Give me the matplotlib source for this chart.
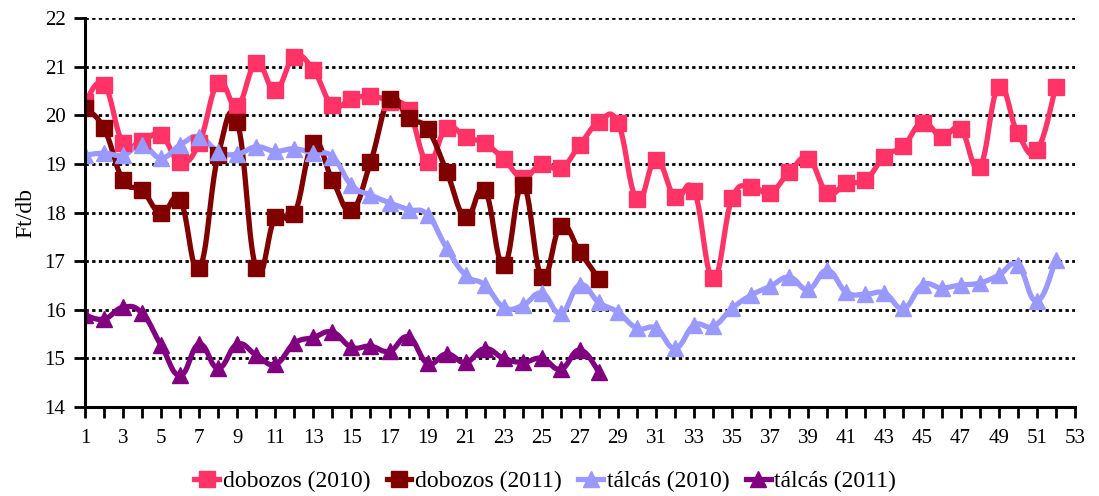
import numpy as np
import matplotlib
matplotlib.use("Agg")
from matplotlib import pyplot as plt

# weeks
weeks_2010 = list(range(1, 53))
weeks_2011 = list(range(1, 29))

dobozos_2010 = [20.27, 20.63, 19.43, 19.48, 19.59, 19.04, 19.43, 20.66, 20.2, 21.07,
                20.52, 21.2, 20.93, 20.21, 20.33, 20.4, 20.28, 20.1, 19.04, 19.74,
                19.55, 19.42, 19.1, 18.72, 19.0, 18.91, 19.39, 19.86, 19.84, 18.28,
                19.08, 18.32, 18.45, 16.65, 18.29, 18.52, 18.41, 18.83, 19.11, 18.41,
                18.6, 18.67, 19.15, 19.37, 19.85, 19.56, 19.71, 18.94, 20.58, 19.63,
                19.28, 20.58]
dobozos_2011 = [20.15, 19.73, 18.67, 18.46, 17.98, 18.25, 16.85, 19.18, 19.86, 16.85,
                17.9, 17.97, 19.42, 18.67, 18.05, 19.03, 20.33, 19.94, 19.71, 18.84,
                17.9, 18.46, 16.92, 18.56, 16.68, 17.72, 17.19, 16.63]
talcas_2010 = [19.18, 19.22, 19.18, 19.39, 19.12, 19.39, 19.56, 19.25, 19.2, 19.35,
               19.26, 19.31, 19.22, 19.15, 18.56, 18.36, 18.2, 18.06, 17.95, 17.27,
               16.71, 16.51, 16.05, 16.09, 16.34, 15.93, 16.51, 16.15, 15.95, 15.62,
               15.62, 15.21, 15.68, 15.66, 16.03, 16.3, 16.48, 16.67, 16.42, 16.81,
               16.36, 16.32, 16.34, 16.03, 16.51, 16.45, 16.51, 16.55, 16.71, 16.92,
               16.18, 17.02]
talcas_2011 = [15.89, 15.81, 16.05, 15.93, 15.27, 14.65, 15.29, 14.8, 15.29, 15.07,
               14.88, 15.31, 15.43, 15.54, 15.23, 15.25, 15.15, 15.44, 14.9, 15.09,
               14.92, 15.2, 15.0, 14.92, 15.0, 14.78, 15.17, 14.72]

labels = ["dobozos (2010)", "dobozos (2011)", "tálcás (2010)", "tálcás (2011)"]
colors = ["#FF3366", "#800000", "#9999FF", "#800080"]
markers = ["s", "s", "^", "^"]


def smooth(xs, ys, sx=19.04, sy=48.6, f=0.22, n=20):
    # bezier smoothing similar to spreadsheet "smoothed line", done in screen-ish units
    p = np.column_stack([np.asarray(xs, float) * sx, np.asarray(ys, float) * sy])
    out = [p[0]]
    t = np.linspace(0, 1, n)[1:, None]
    for i in range(len(p) - 1):
        p0 = p[i - 1] if i > 0 else p[i]
        p3 = p[i + 2] if i + 2 < len(p) else p[i + 1]
        c1 = p[i] + f * (p[i + 1] - p0)
        c2 = p[i + 1] - f * (p3 - p[i])
        seg = ((1 - t) ** 3) * p[i] + 3 * ((1 - t) ** 2) * t * c1 + 3 * (1 - t) * t ** 2 * c2 + t ** 3 * p[i + 1]
        out.extend(seg)
    out = np.array(out)
    return out[:, 0] / sx, out[:, 1] / sy


plt.rcParams['font.family'] = ['Liberation Serif', 'DejaVu Serif']

fig = plt.figure(figsize=(10.99, 4.96), dpi=100)
ax = fig.add_axes([0.0773, 0.1794, 0.9007, 0.7843])

series = [(weeks_2010, dobozos_2010), (weeks_2011, dobozos_2011),
          (weeks_2010, talcas_2010), (weeks_2011, talcas_2011)]
handles = []
for (xs, ys), lab, c, m in zip(series, labels, colors, markers):
    sx_, sy_ = smooth(xs, ys)
    ax.plot(sx_, sy_, color=c, lw=3.8, solid_capstyle='round', zorder=3)
    ax.plot(xs, ys, linestyle='none', marker=m, color=c, markersize=11.5 if m == 's' else 12, zorder=4)
    h, = ax.plot([], [], color=c, lw=3.8, marker=m, markersize=11 if m == 's' else 12, label=lab)
    handles.append(h)

ax.set_xlim(1, 53)
ax.set_ylim(14, 22)
ax.set_yticks(range(14, 23))
ax.set_xticks(range(1, 54))
ax.set_xticklabels([str(i) if i % 2 == 1 else "" for i in range(1, 54)])
for y in range(15, 23):
    ax.axhline(y, color='black', lw=2.0, linestyle=(0, (1.2, 1.2)), zorder=1)

for s in ['top', 'right']:
    ax.spines[s].set_visible(False)
for s in ['left', 'bottom']:
    ax.spines[s].set_linewidth(2.2)
    ax.spines[s].set_zorder(5)
ax.tick_params(axis='both', direction='out', length=8, width=2.0, labelsize=15, colors='black')
ax.tick_params(axis='x', pad=8)
ax.tick_params(axis='y', pad=6)
ax.set_ylabel("Ft/db", fontsize=17, labelpad=6)

fig.legend(handles=handles, loc='center', bbox_to_anchor=(0.496, 0.03), ncol=4,
           frameon=False, fontsize=17, handlelength=1.05, handletextpad=0.15, columnspacing=0.7,
           borderpad=0.1)

fig.savefig("out.png", dpi=100)
